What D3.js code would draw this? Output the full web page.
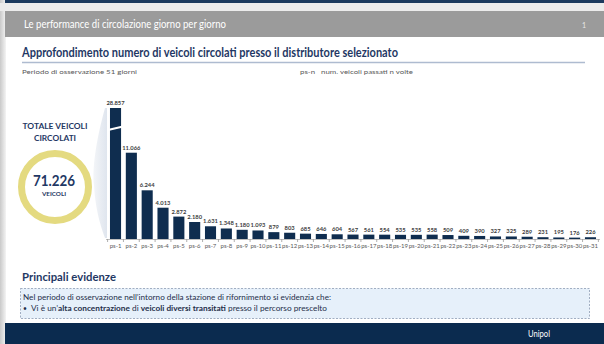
<!DOCTYPE html>
<html><head><meta charset="utf-8">
<script src="https://cdn.jsdelivr.net/npm/d3@7"></script>
<style>
html,body{margin:0;padding:0;background:#fff;}
svg{display:block;font-family:Lato,"Open Sans",sans-serif;}
</style></head>
<body>
<svg id="c" width="604" height="344"></svg>
<script>
// ---- data ----
const categories = ["ps-1","ps-2","ps-3","ps-4","ps-5","ps-6","ps-7","ps-8","ps-9","ps-10","ps-11","ps-12","ps-13","ps-14","ps-15","ps-16","ps-17","ps-18","ps-19","ps-20","ps-21","ps-22","ps-23","ps-24","ps-25","ps-26","ps-27","ps-28","ps-29","ps-30","ps-31"];
const values = [28857,11066,6244,4013,2872,2180,1631,1348,1180,1093,879,803,685,646,604,567,561,554,535,535,558,509,409,390,327,325,289,231,195,176,226];
const totalVehicles = 71226;
const titleText = "Le performance di circolazione giorno per giorno";
const subtitleText = "Approfondimento numero di veicoli circolati presso il distributore selezionato";
const periodText = "Periodo di osservazione 51 giorni";
const legendText = "ps-n   num. veicoli passati n volte";

const svg = d3.select("#c");
const navy = "#0f2d4f";
const itFmt = d3.formatLocale({decimal:",", thousands:".", grouping:[3], currency:["€",""]}).format(",d");

// background frame / shadows
const defs = svg.append("defs");
const lg = defs.append("linearGradient").attr("id","lshadow").attr("x1","0").attr("x2","1");
lg.append("stop").attr("offset","0").attr("stop-color","#c9c9c9");
lg.append("stop").attr("offset","1").attr("stop-color","#f4f4f4");
svg.append("rect").attr("x",0).attr("y",0).attr("width",604).attr("height",344).attr("fill","#fff");
svg.append("rect").attr("x",0).attr("y",0).attr("width",6).attr("height",344).attr("fill","url(#lshadow)");
svg.append("rect").attr("x",0).attr("y",3).attr("width",604).attr("height",8).attr("fill","#ececec");
svg.append("rect").attr("x",5).attr("y",0).attr("width",599).attr("height",3).attr("fill","#1c3a5e");

// header
svg.append("rect").attr("x",5).attr("y",11).attr("width",599).attr("height",26).attr("fill","#9b9b9b");
svg.append("text").attr("x",24).attr("y",28).attr("fill","#fff").attr("font-size",11.5)
  .attr("textLength",202).attr("lengthAdjust","spacingAndGlyphs").text(titleText);
svg.append("text").attr("x",582).attr("y",28).attr("fill","#e8e8e8").attr("font-size",7).text("1");

// subtitle
svg.append("text").attr("x",22).attr("y",57).attr("fill","#1f3864").attr("font-size",12.5).attr("font-weight","bold")
  .attr("textLength",376).attr("lengthAdjust","spacingAndGlyphs").text(subtitleText);
svg.append("line").attr("x1",22).attr("x2",585).attr("y1",62.5).attr("y2",62.5).attr("stroke","#aebbd0").attr("stroke-width",1.5);
svg.append("text").attr("x",22).attr("y",74).attr("fill","#595959").attr("font-size",6.3)
  .attr("textLength",115).attr("lengthAdjust","spacingAndGlyphs").text(periodText);
svg.append("text").attr("x",300).attr("y",74).attr("fill","#595959").attr("font-size",6.3).attr("xml:space","preserve")
  .attr("textLength",113).attr("lengthAdjust","spacingAndGlyphs").text(legendText);

// total block
svg.append("text").attr("x",55).attr("y",129).attr("text-anchor","middle").attr("fill","#1f3864").attr("font-size",8.3).attr("font-weight","bold")
  .attr("textLength",65).attr("lengthAdjust","spacingAndGlyphs").text("TOTALE VEICOLI");
svg.append("text").attr("x",55).attr("y",141).attr("text-anchor","middle").attr("fill","#1f3864").attr("font-size",8.3).attr("font-weight","bold").text("CIRCOLATI");
svg.append("circle").attr("cx",55).attr("cy",187).attr("r",33.5).attr("fill","#fff").attr("stroke","#e4da80").attr("stroke-width",7);
svg.append("text").attr("x",54).attr("y",186).attr("text-anchor","middle").attr("fill","#1f3864").attr("font-size",15).attr("font-weight","bold")
  .attr("textLength",42).attr("lengthAdjust","spacingAndGlyphs").text(itFmt(totalVehicles));
svg.append("text").attr("x",54).attr("y",196).attr("text-anchor","middle").attr("fill","#1f3864").attr("font-size",6.3).attr("font-weight","bold").text("VEICOLI");

// connector lens
const cg = defs.append("linearGradient").attr("id","lens").attr("x1","0").attr("x2","1");
cg.append("stop").attr("offset","0").attr("stop-color","#f3f5f8");
cg.append("stop").attr("offset","1").attr("stop-color","#dfe5ee");
svg.append("path").attr("d","M105,108 C96,140 92,170 94,185 C95,205 99,222 105,238 L107,238 L107,108 Z").attr("fill","url(#lens)");

// chart
const x = d3.scaleBand().domain(categories).range([107.6,598.4]).paddingInner(0.3).paddingOuter(0.15);
const y = d3.scaleLinear().domain([0,16800]).range([239,108]).clamp(true);
const g = svg.append("g");
g.selectAll("rect.bar").data(values).join("rect").attr("class","bar")
  .attr("x",(d,i)=>x(categories[i])).attr("width",x.bandwidth())
  .attr("y",d=>y(d)).attr("height",d=>y(0)-y(d)).attr("fill",navy);
// axis break on first bar
const b0 = x(categories[0]);
g.append("line").attr("x1",b0-2).attr("x2",b0+x.bandwidth()+2).attr("y1",130).attr("y2",126.5)
  .attr("stroke","#fff").attr("stroke-width",1.8);
g.selectAll("text.val").data(values).join("text").attr("class","val")
  .attr("x",(d,i)=>x(categories[i])+x.bandwidth()/2).attr("y",d=>y(d)-3)
  .attr("text-anchor","middle").attr("font-size",5.8).attr("font-weight","bold").attr("fill","#404040")
  .text(d=>itFmt(d));
// axis
const ax = d3.axisBottom(x).tickSize(0).tickPadding(5);
const axg = svg.append("g").attr("transform","translate(0,239)").call(ax);
axg.select(".domain").attr("stroke","#bfbfbf").attr("d","M106,0.5H600");
axg.selectAll("text").attr("font-size",6).attr("fill","#595959").attr("font-family","Lato,sans-serif");
// boundary ticks
const bounds = categories.map(c=>x(c)-x.step()*x.paddingInner()/2).concat([x(categories[categories.length-1])+x.bandwidth()+x.step()*x.paddingInner()/2]);
axg.selectAll("line.bt").data(bounds).join("line").attr("class","bt")
  .attr("x1",d=>d).attr("x2",d=>d).attr("y1",0).attr("y2",3).attr("stroke","#9a9a9a").attr("stroke-width",0.8);

// principali evidenze
svg.append("text").attr("x",22).attr("y",281).attr("fill","#1f3864").attr("font-size",10.5).attr("font-weight","bold")
  .attr("textLength",94).attr("lengthAdjust","spacingAndGlyphs").text("Principali evidenze");
svg.append("rect").attr("x",20.5).attr("y",288.5).attr("width",569).attr("height",30).attr("fill","#e6f0fa")
  .attr("stroke","#8a9bb3").attr("stroke-width",0.8).attr("stroke-dasharray","2,1.5");
svg.append("text").attr("x",23).attr("y",300).attr("fill","#1f2f4a").attr("font-size",6.8)
  .attr("textLength",308).attr("lengthAdjust","spacingAndGlyphs")
  .text("Nel periodo di osservazione nell\u2019intorno della stazione di rifornimento si evidenzia che:");
svg.append("text").attr("x",23).attr("y",311).attr("fill","#1f2f4a").attr("font-size",6.8).text("\u2022");
const t2 = svg.append("text").attr("x",31).attr("y",311).attr("fill","#1f2f4a").attr("font-size",6.8)
  .attr("textLength",296).attr("lengthAdjust","spacingAndGlyphs");
t2.append("tspan").text("Vi \u00e8 un\u2019");
t2.append("tspan").attr("font-weight","bold").text("alta concentrazione");
t2.append("tspan").text(" di ");
t2.append("tspan").attr("font-weight","bold").text("veicoli diversi transitati");
t2.append("tspan").text(" presso il percorso prescelto");

// footer
svg.append("rect").attr("x",5).attr("y",323).attr("width",599).attr("height",21).attr("fill","#0b2b4f");
svg.append("text").attr("x",528).attr("y",337).attr("fill","#fff").attr("font-size",9)
  .attr("textLength",22).attr("lengthAdjust","spacingAndGlyphs").text("Unipol");
</script>
</body></html>
